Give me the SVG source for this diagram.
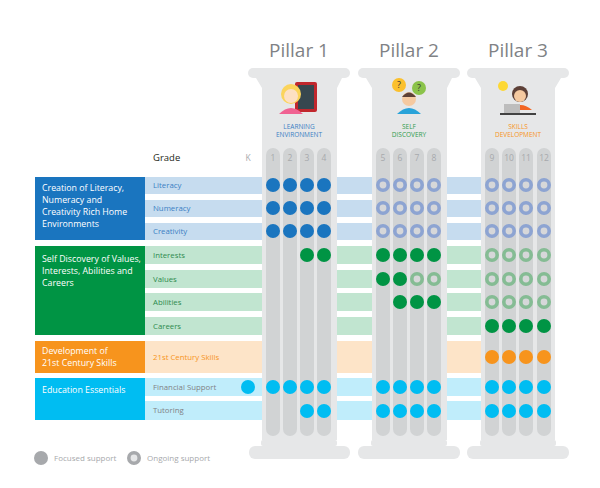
<svg xmlns="http://www.w3.org/2000/svg" width="600" height="488" viewBox="0 0 600 488">
<style>
text{font-family:"Open Sans","Liberation Sans",sans-serif}
.pt{font-size:19px;fill:#808285;text-anchor:middle}
.gr{font-size:8.5px;fill:#a7a9ac;text-anchor:middle}
.cat{font-size:8.8px;fill:#fff}
.sub{font-size:7.8px}
.cap{fill:#e6e7e8}
.slot{fill:#d1d3d4}
.lb{font-size:6.5px;text-anchor:middle}
.fb{fill:#1a75bf}.fg{fill:#009444}.fo{fill:#f7941d}.fc{fill:#00bdf2}
.ob{fill:#d6d7d9;stroke:#8da4d2;stroke-width:3.6}
.og{fill:#d6d7d9;stroke:#85bc94;stroke-width:3.6}
</style>
<rect width="600" height="488" fill="#fff"/>
<g id="bands">
<rect x="145" y="177" width="410" height="17" fill="#c6dcef"/>
<rect x="145" y="200" width="410" height="17" fill="#c6dcef"/>
<rect x="145" y="223" width="410" height="17" fill="#c6dcef"/>
<rect x="145" y="246" width="410" height="18" fill="#c1e5d0"/>
<rect x="145" y="270" width="410" height="18" fill="#c1e5d0"/>
<rect x="145" y="293" width="410" height="18" fill="#c1e5d0"/>
<rect x="145" y="317" width="410" height="18" fill="#c1e5d0"/>
<rect x="145" y="341" width="410" height="32" fill="#fde4c8"/>
<rect x="145" y="378" width="410" height="18" fill="#c0edfb"/>
<rect x="145" y="401" width="410" height="19" fill="#c0edfb"/>
</g>
<g id="categories">
<rect x="35" y="177" width="110" height="63" fill="#1a75bf"/>
<text class="cat" x="42" y="191">Creation of Literacy,</text>
<text class="cat" x="42" y="203">Numeracy and</text>
<text class="cat" x="42" y="215">Creativity Rich Home</text>
<text class="cat" x="42" y="227">Environments</text>
<rect x="35" y="246" width="110" height="89" fill="#009444"/>
<text class="cat" x="42" y="262">Self Discovery of Values,</text>
<text class="cat" x="42" y="274">Interests, Abilities and</text>
<text class="cat" x="42" y="286">Careers</text>
<rect x="35" y="341" width="110" height="32" fill="#f7941d"/>
<text class="cat" x="42" y="354">Development of</text>
<text class="cat" x="42" y="366">21st Century Skills</text>
<rect x="35" y="378" width="110" height="42" fill="#00bdf2"/>
<text class="cat" x="42" y="393">Education Essentials</text>
<g class="sub">
<text x="153" y="188" fill="#3b7fc4">Literacy</text>
<text x="153" y="211" fill="#3b7fc4">Numeracy</text>
<text x="153" y="234" fill="#3b7fc4">Creativity</text>
<text x="153" y="258" fill="#2e8b4e">Interests</text>
<text x="153" y="282" fill="#2e8b4e">Values</text>
<text x="153" y="305" fill="#2e8b4e">Abilities</text>
<text x="153" y="329" fill="#2e8b4e">Careers</text>
<text x="153" y="360" fill="#f7941d">21st Century Skills</text>
<text x="153" y="390" fill="#808285">Financial Support</text>
<text x="153" y="413" fill="#808285">Tutoring</text>
</g>
<text x="153" y="161" font-size="9.5" fill="#231f20">Grade</text>
<text x="248" y="161" class="gr">K</text>
</g>
<g id="pillar1">
<text class="pt" x="299" y="57">Pillar 1</text>
<rect class="cap" x="248" y="68" width="102" height="10" rx="5"/>
<path class="cap" d="M256 78H342L337 88V440H262V88Z"/>
<rect class="cap" x="261" y="440" width="76" height="6" rx="2"/>
<rect class="cap" x="249" y="446" width="101" height="13" rx="6"/>
<g transform="translate(299,100)">
<rect x="-4" y="-18" width="22" height="30" rx="2" fill="#c1272d"/><rect x="-1" y="-15" width="16" height="24" fill="#37474f"/>
<circle cx="-8" cy="-6" r="10" fill="#fbd45c"/><circle cx="-8" cy="-4" r="7" fill="#fde0c4"/>
<path d="M-20 14Q-8 2 4 14Z" fill="#f06292"/>
</g>
<text class="lb" x="299" y="129" fill="#3b7fc4">LEARNING</text>
<text class="lb" x="299" y="137" fill="#3b7fc4">ENVIRONMENT</text>
<rect class="slot" x="266" y="148" width="14" height="288" rx="7"/>
<rect class="slot" x="283" y="148" width="14" height="288" rx="7"/>
<rect class="slot" x="300" y="148" width="14" height="288" rx="7"/>
<rect class="slot" x="317" y="148" width="14" height="288" rx="7"/>
<text class="gr" x="273" y="161">1</text><text class="gr" x="290" y="161">2</text><text class="gr" x="307" y="161">3</text><text class="gr" x="324" y="161">4</text>
</g>
<g id="pillar2">
<text class="pt" x="409" y="57">Pillar 2</text>
<rect class="cap" x="358" y="68" width="102" height="10" rx="5"/>
<path class="cap" d="M366 78H452L447 88V440H372V88Z"/>
<rect class="cap" x="371" y="440" width="76" height="6" rx="2"/>
<rect class="cap" x="358" y="446" width="102" height="13" rx="6"/>
<g transform="translate(409,100)">
<circle cx="-10" cy="-15" r="7" fill="#fbc02d"/><text x="-10" y="-12" font-size="9" text-anchor="middle" fill="#333">?</text>
<circle cx="10" cy="-12" r="7" fill="#8bc34a"/><text x="10" y="-9" font-size="9" text-anchor="middle" fill="#333">?</text>
<circle cx="0" cy="-1" r="7" fill="#f5c9a0"/><path d="M-7 -3Q0 -12 7 -3Z" fill="#5d4037"/>
<path d="M-12 14Q0 2 12 14Z" fill="#29a3d9"/>
</g>
<text class="lb" x="409" y="129" fill="#2e9b4e">SELF</text>
<text class="lb" x="409" y="137" fill="#2e9b4e">DISCOVERY</text>
<rect class="slot" x="376" y="148" width="14" height="288" rx="7"/>
<rect class="slot" x="393" y="148" width="14" height="288" rx="7"/>
<rect class="slot" x="410" y="148" width="14" height="288" rx="7"/>
<rect class="slot" x="427" y="148" width="14" height="288" rx="7"/>
<text class="gr" x="383" y="161">5</text><text class="gr" x="400" y="161">6</text><text class="gr" x="417" y="161">7</text><text class="gr" x="434" y="161">8</text>
</g>
<g id="pillar3">
<text class="pt" x="518" y="57">Pillar 3</text>
<rect class="cap" x="467" y="68" width="102" height="10" rx="5"/>
<path class="cap" d="M475 78H561L555 88V440H481V88Z"/>
<rect class="cap" x="480" y="440" width="76" height="6" rx="2"/>
<rect class="cap" x="467" y="446" width="102" height="13" rx="6"/>
<g transform="translate(518,100)">
<circle cx="-15" cy="-14" r="5" fill="#fdd835"/>
<circle cx="2" cy="-6" r="8" fill="#5d4037"/><circle cx="2" cy="-4" r="6" fill="#f5c9a0"/>
<path d="M-8 10Q2 0 14 10Z" fill="#f26522"/>
<rect x="-14" y="4" width="16" height="10" fill="#bdbdbd"/><rect x="-18" y="13" width="36" height="2" fill="#424242"/>
</g>
<text class="lb" x="518" y="129" fill="#f7941d">SKILLS</text>
<text class="lb" x="518" y="137" fill="#f7941d">DEVELOPMENT</text>
<rect class="slot" x="485" y="148" width="14" height="288" rx="7"/>
<rect class="slot" x="502" y="148" width="14" height="288" rx="7"/>
<rect class="slot" x="519" y="148" width="14" height="288" rx="7"/>
<rect class="slot" x="537" y="148" width="14" height="288" rx="7"/>
<text class="gr" x="492" y="161">9</text><text class="gr" x="509" y="161">10</text><text class="gr" x="526" y="161">11</text><text class="gr" x="544" y="161">12</text>
</g>
<g id="dots">
<g class="fb"><circle cx="273" cy="185" r="7"/><circle cx="290" cy="185" r="7"/><circle cx="307" cy="185" r="7"/><circle cx="324" cy="185" r="7"/>
<circle cx="273" cy="208" r="7"/><circle cx="290" cy="208" r="7"/><circle cx="307" cy="208" r="7"/><circle cx="324" cy="208" r="7"/>
<circle cx="273" cy="231" r="7"/><circle cx="290" cy="231" r="7"/><circle cx="307" cy="231" r="7"/><circle cx="324" cy="231" r="7"/></g>
<g class="ob">
<circle cx="383" cy="185" r="5.2"/><circle cx="400" cy="185" r="5.2"/><circle cx="417" cy="185" r="5.2"/><circle cx="434" cy="185" r="5.2"/>
<circle cx="492" cy="185" r="5.2"/><circle cx="509" cy="185" r="5.2"/><circle cx="526" cy="185" r="5.2"/><circle cx="544" cy="185" r="5.2"/>
<circle cx="383" cy="208" r="5.2"/><circle cx="400" cy="208" r="5.2"/><circle cx="417" cy="208" r="5.2"/><circle cx="434" cy="208" r="5.2"/>
<circle cx="492" cy="208" r="5.2"/><circle cx="509" cy="208" r="5.2"/><circle cx="526" cy="208" r="5.2"/><circle cx="544" cy="208" r="5.2"/>
<circle cx="383" cy="231" r="5.2"/><circle cx="400" cy="231" r="5.2"/><circle cx="417" cy="231" r="5.2"/><circle cx="434" cy="231" r="5.2"/>
<circle cx="492" cy="231" r="5.2"/><circle cx="509" cy="231" r="5.2"/><circle cx="526" cy="231" r="5.2"/><circle cx="544" cy="231" r="5.2"/></g>
<g class="fg"><circle cx="307" cy="255" r="7"/><circle cx="324" cy="255" r="7"/>
<circle cx="383" cy="255" r="7"/><circle cx="400" cy="255" r="7"/><circle cx="417" cy="255" r="7"/><circle cx="434" cy="255" r="7"/>
<circle cx="383" cy="279" r="7"/><circle cx="400" cy="279" r="7"/>
<circle cx="400" cy="302" r="7"/><circle cx="417" cy="302" r="7"/><circle cx="434" cy="302" r="7"/>
<circle cx="492" cy="326" r="7"/><circle cx="509" cy="326" r="7"/><circle cx="526" cy="326" r="7"/><circle cx="544" cy="326" r="7"/></g>
<g class="og">
<circle cx="492" cy="255" r="5.2"/><circle cx="509" cy="255" r="5.2"/><circle cx="526" cy="255" r="5.2"/><circle cx="544" cy="255" r="5.2"/>
<circle cx="417" cy="279" r="5.2"/><circle cx="434" cy="279" r="5.2"/>
<circle cx="492" cy="279" r="5.2"/><circle cx="509" cy="279" r="5.2"/><circle cx="526" cy="279" r="5.2"/><circle cx="544" cy="279" r="5.2"/>
<circle cx="492" cy="302" r="5.2"/><circle cx="509" cy="302" r="5.2"/><circle cx="526" cy="302" r="5.2"/><circle cx="544" cy="302" r="5.2"/></g>
<g class="fo"><circle cx="492" cy="357" r="7"/><circle cx="509" cy="357" r="7"/><circle cx="526" cy="357" r="7"/><circle cx="544" cy="357" r="7"/></g>
<g class="fc"><circle cx="248" cy="387" r="7"/>
<circle cx="273" cy="387" r="7"/><circle cx="290" cy="387" r="7"/><circle cx="307" cy="387" r="7"/><circle cx="324" cy="387" r="7"/>
<circle cx="383" cy="387" r="7"/><circle cx="400" cy="387" r="7"/><circle cx="417" cy="387" r="7"/><circle cx="434" cy="387" r="7"/>
<circle cx="492" cy="387" r="7"/><circle cx="509" cy="387" r="7"/><circle cx="526" cy="387" r="7"/><circle cx="544" cy="387" r="7"/>
<circle cx="307" cy="411" r="7"/><circle cx="324" cy="411" r="7"/>
<circle cx="383" cy="411" r="7"/><circle cx="400" cy="411" r="7"/><circle cx="417" cy="411" r="7"/><circle cx="434" cy="411" r="7"/>
<circle cx="492" cy="411" r="7"/><circle cx="509" cy="411" r="7"/><circle cx="526" cy="411" r="7"/><circle cx="544" cy="411" r="7"/></g>
</g>
<g id="legend">
<circle cx="41" cy="458" r="7" fill="#a7a9ac"/>
<text x="54" y="461" font-size="8" fill="#a7a9ac">Focused support</text>
<circle cx="134" cy="458" r="5.2" fill="#e6e7e8" stroke="#a7a9ac" stroke-width="3.6"/>
<text x="147" y="461" font-size="8" fill="#a7a9ac">Ongoing support</text>
</g>
</svg>
